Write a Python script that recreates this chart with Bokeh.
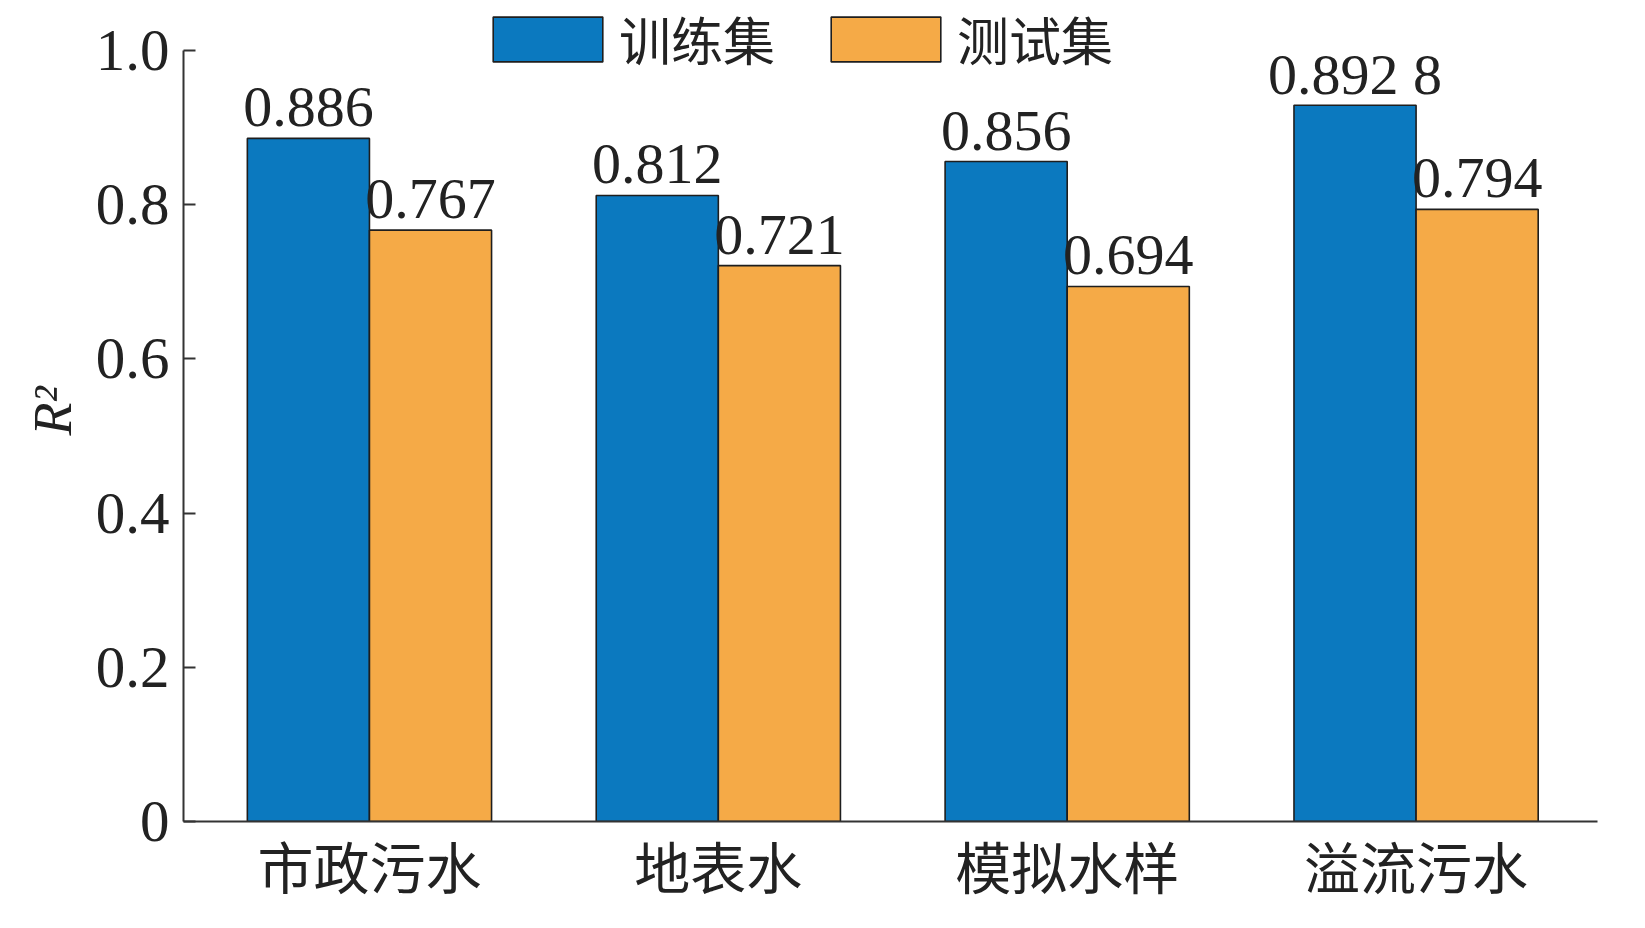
from bokeh.plotting import figure
from bokeh.models import Range1d, FixedTicker, Legend, LegendItem, ColumnDataSource
from bokeh.core.properties import value
from bokeh.embed import file_html
from bokeh.resources import INLINE

categories = ["市政污水", "地表水", "模拟水样", "溢流污水"]
train = [0.886, 0.812, 0.856, 0.929]
test = [0.767, 0.721, 0.694, 0.794]
train_labels = ["0.886", "0.812", "0.856", "0.892 8"]
test_labels = ["0.767", "0.721", "0.694", "0.794"]
y_ticks = [0, 0.2, 0.4, 0.6, 0.8, 1.0]
y_tick_labels = ["0", "0.2", "0.4", "0.6", "0.8", "1.0"]
series_names = ["训练集", "测试集"]

BLUE = "#0b79bf"
ORANGE = "#f5aa47"
CJK = "Noto Sans CJK SC"

xs = [i + 1 for i in range(len(categories))]
dodge = 0.175
bw = 0.35

FRAME_H = 821
PX_PER_UNIT = 771

p = figure(width=1629, height=912, output_backend="svg", toolbar_location=None,
           x_range=Range1d(0.467, 4.52), y_range=Range1d(0, FRAME_H / PX_PER_UNIT),
           min_border_left=183, min_border_right=32, min_border_top=0, min_border_bottom=91)
p.outline_line_color = None
p.xgrid.visible = False
p.ygrid.visible = False
p.background_fill_color = "white"

src_tr = ColumnDataSource(dict(x=[x - dodge for x in xs], top=train, lbl=train_labels))
src_te = ColumnDataSource(dict(x=[x + dodge for x in xs], top=test, lbl=test_labels))

r1 = p.vbar(x="x", top="top", width=bw, bottom=0, source=src_tr, fill_color=BLUE,
            line_color="#1e1e1e", line_width=1.6)
r2 = p.vbar(x="x", top="top", width=bw, bottom=0, source=src_te, fill_color=ORANGE,
            line_color="#1e1e1e", line_width=1.6)

for src in (src_tr, src_te):
    p.text(x="x", y="top", text="lbl", source=src, text_align="center",
           text_baseline="alphabetic", y_offset=-31, text_font=value("Liberation Serif"),
           text_font_size="58px", text_color="#222222")

# axes
p.xaxis.ticker = FixedTicker(ticks=xs)
p.xaxis.major_label_overrides = {x: c for x, c in zip(xs, categories)}
p.xaxis.major_tick_line_color = None
p.xaxis.minor_tick_line_color = None
p.xaxis.major_label_text_font = CJK
p.xaxis.major_label_text_font_size = "56px"
p.xaxis.major_label_text_color = "#222222"
p.xaxis.major_label_standoff = -4
p.xaxis.axis_line_color = "#333333"
p.xaxis.axis_line_width = 2

p.yaxis.ticker = FixedTicker(ticks=y_ticks)
p.yaxis.bounds = (0, 1.0)
p.yaxis.major_label_overrides = {t: l for t, l in zip(y_ticks, y_tick_labels)}
p.yaxis.major_tick_in = 12
p.yaxis.major_tick_out = 0
p.yaxis.minor_tick_line_color = None
p.yaxis.major_tick_line_width = 2
p.yaxis.major_tick_line_color = "#333333"
p.yaxis.axis_line_color = "#333333"
p.yaxis.axis_line_width = 2
p.yaxis.major_label_text_font = "Liberation Serif"
p.yaxis.major_label_text_font_size = "59px"
p.yaxis.major_label_text_color = "#222222"
p.yaxis.major_label_standoff = 14
p.yaxis.axis_label = "R²"
p.yaxis.axis_label_text_font = "Liberation Serif"
p.yaxis.axis_label_text_font_style = "italic"
p.yaxis.axis_label_text_font_size = "54px"
p.yaxis.axis_label_text_color = "#222222"
p.yaxis.axis_label_standoff = 10

legend = Legend(items=[LegendItem(label=series_names[0], renderers=[r1]),
                       LegendItem(label=series_names[1], renderers=[r2])],
                orientation="horizontal", location=(296, 745),
                glyph_width=137, glyph_height=56, label_standoff=3, spacing=42,
                padding=0, margin=0, border_line_color=None, background_fill_alpha=0,
                label_text_font=CJK, label_text_font_size="52px", label_text_color="#222222")
p.add_layout(legend, "center")

open("out.html", "w").write(file_html(p, INLINE))
